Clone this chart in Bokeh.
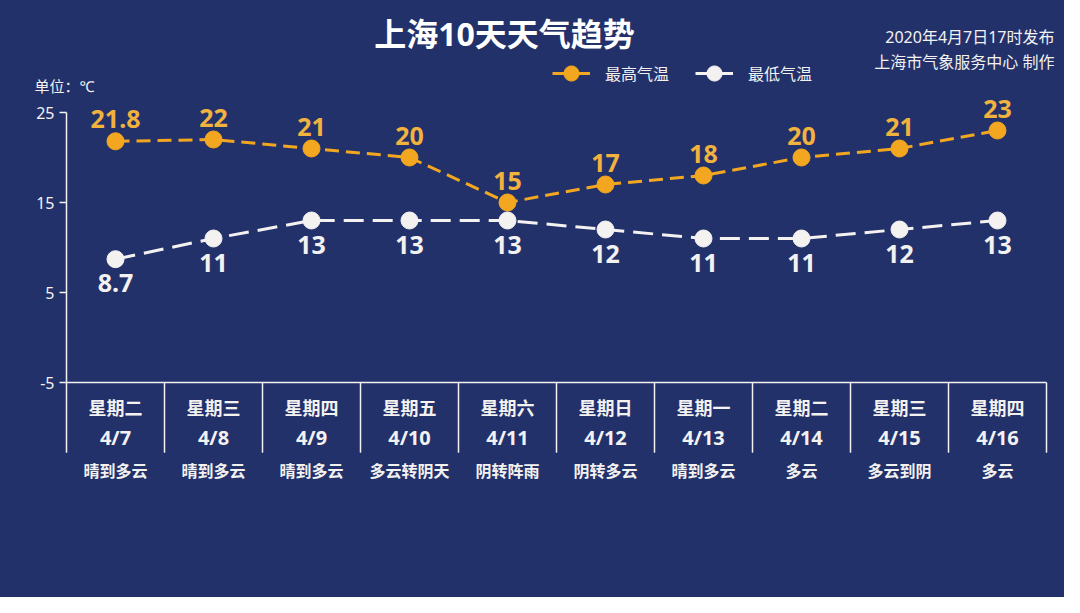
from bokeh.plotting import figure
from bokeh.models import (ColumnDataSource, Range1d, FixedTicker, LabelSet, Label,
                          Legend, LegendItem)
from bokeh.core.properties import value
from bokeh.embed import file_html
from bokeh.resources import INLINE

# data
weekdays = ["星期二", "星期三", "星期四", "星期五", "星期六", "星期日", "星期一", "星期二", "星期三", "星期四"]
dates = ["4/7", "4/8", "4/9", "4/10", "4/11", "4/12", "4/13", "4/14", "4/15", "4/16"]
weather = ["晴到多云", "晴到多云", "晴到多云", "多云转阴天", "阴转阵雨", "阴转多云", "晴到多云", "多云", "多云到阴", "多云"]
high_temp = [21.8, 22, 21, 20, 15, 17, 18, 20, 21, 23]
low_temp = [8.7, 11, 13, 13, 13, 12, 11, 11, 12, 13]
y_ticks = [25, 15, 5, -5]

BG = "#22316a"
ORANGE = "#f3a720"
ORANGE_TXT = "#f2b23e"
WHITE = "#f4f1f1"
FONT = "'Noto Sans', 'Noto Sans CJK SC', sans-serif"

W, H = 1064, 597
LEFT = 34          # frame starts here (canvas px)
COL = 98           # px per day column
X0 = 66            # canvas px of the y axis
PX_PER_DEG = 9.0
Y25 = 112          # canvas px of 25 degrees


def fmt(v):
    return str(int(v)) if float(v).is_integer() else str(v)


n = len(dates)
xs = [i + 0.5 for i in range(n)]
src = ColumnDataSource(dict(
    x=xs, hi=high_temp, lo=low_temp,
    hi_txt=[fmt(v) for v in high_temp], lo_txt=[fmt(v) for v in low_temp],
    wd=weekdays, dt=dates, wx=weather,
    y_wd=[-7.8] * n, y_dt=[-11.1] * n, y_wx=[-14.8] * n,
))

x_range = Range1d(-(X0 - LEFT) / COL, (W - X0) / COL)
y_range = Range1d(25 - (H - Y25) / PX_PER_DEG, 25 + Y25 / PX_PER_DEG)

p = figure(width=W, height=H, output_backend="svg", toolbar_location=None,
           x_range=x_range, y_range=y_range, x_axis_location=None,
           min_border=0, min_border_left=LEFT, min_border_right=0,
           background_fill_color=BG, border_fill_color=BG, outline_line_color=None)
p.styles = {"background-color": BG}
p.grid.visible = False

# y axis pinned at x=0 (inside the frame); its line is drawn separately so it stops at 25
ya = p.yaxis[0]
ya.fixed_location = 0
ya.ticker = FixedTicker(ticks=y_ticks)
ya.major_label_overrides = {t: str(t) for t in y_ticks}
ya.axis_line_color = None
ya.major_tick_line_color = WHITE
ya.major_tick_line_width = 1.5
ya.major_tick_out = 7
ya.major_tick_in = 0
ya.minor_tick_line_color = None
ya.major_label_text_color = WHITE
ya.major_label_text_font = FONT
ya.major_label_text_font_size = "16px"
ya.major_label_standoff = 5

# table frame below the chart
p.segment(x0=[0], y0=[-12.8], x1=[0], y1=[25], line_color=WHITE, line_width=1.5)
p.segment(x0=[0], y0=[-5], x1=[n], y1=[-5], line_color=WHITE, line_width=1.5)
p.segment(x0=list(range(1, n + 1)), y0=[-12.8] * n, x1=list(range(1, n + 1)), y1=[-5] * n,
          line_color=WHITE, line_width=1.5)

# series
p.line("x", "hi", source=src, line_color=ORANGE, line_width=3, line_dash="14 7")
p.scatter("x", "hi", source=src, size=17, fill_color=ORANGE, line_color=ORANGE)
p.line("x", "lo", source=src, line_color=WHITE, line_width=3, line_dash="20 9")
p.scatter("x", "lo", source=src, size=17, fill_color=WHITE, line_color=WHITE)

p.add_layout(LabelSet(x="x", y="hi", text="hi_txt", source=src, y_offset=22,
                      text_align="center", text_baseline="middle", text_color=ORANGE_TXT,
                      text_font=value(FONT), text_font_size=value("25px"),
                      text_font_style=value("bold")))
p.add_layout(LabelSet(x="x", y="lo", text="lo_txt", source=src, y_offset=-24,
                      text_align="center", text_baseline="middle", text_color=WHITE,
                      text_font=value(FONT), text_font_size=value("25px"),
                      text_font_style=value("bold")))

# table texts
for col, ycol, size in (("wd", "y_wd", "18px"), ("dt", "y_dt", "20px"), ("wx", "y_wx", "16px")):
    p.add_layout(LabelSet(x="x", y=ycol, text=col, source=src, text_align="center",
                          text_baseline="middle", text_color=WHITE, text_font=value(FONT),
                          text_font_size=value(size), text_font_style=value("bold")))

# legend swatches: solid line + dot, like the original (renderers hold no visible data)
blank = ColumnDataSource(dict(x=[float("nan")], y=[float("nan")]))
lh = p.line("x", "y", source=blank, line_color=ORANGE, line_width=3)
lhs = p.scatter("x", "y", source=blank, size=17, fill_color=ORANGE, line_color=ORANGE)
lw = p.line("x", "y", source=blank, line_color=WHITE, line_width=3)
lws = p.scatter("x", "y", source=blank, size=17, fill_color=WHITE, line_color=WHITE)
legend = Legend(items=[LegendItem(label="最高气温", renderers=[lh, lhs]),
                       LegendItem(label="最低气温", renderers=[lw, lws])],
                location=(552 - LEFT, H - 73 - 19), orientation="horizontal",
                background_fill_alpha=0, border_line_color=None,
                glyph_width=38, glyph_height=38, label_standoff=15, spacing=26,
                padding=0, margin=0, label_text_color=WHITE, label_text_font=FONT,
                label_text_font_size="16px")
p.add_layout(legend)

# titles and notes (screen units, relative to the frame)
p.add_layout(Label(x=504 - LEFT, y=H - 33, x_units="screen", y_units="screen",
                   text="上海10天天气趋势", text_align="center", text_baseline="middle",
                   text_color="white", text_font=FONT, text_font_size="32px",
                   text_font_style="bold"))
p.add_layout(Label(x=1054 - LEFT, y=H - 36, x_units="screen", y_units="screen",
                   text="2020年4月7日17时发布", text_align="right", text_baseline="middle",
                   text_color=WHITE, text_font=FONT, text_font_size="16px"))
p.add_layout(Label(x=1054 - LEFT, y=H - 61, x_units="screen", y_units="screen",
                   text="上海市气象服务中心 制作", text_align="right", text_baseline="middle",
                   text_color=WHITE, text_font=FONT, text_font_size="16px"))
p.add_layout(Label(x=0, y=H - 85, x_units="screen", y_units="screen", text="单位：℃",
                   text_align="left", text_baseline="middle", text_color=WHITE,
                   text_font=FONT, text_font_size="15px"))

open("out.html", "w").write(file_html(p, INLINE))
